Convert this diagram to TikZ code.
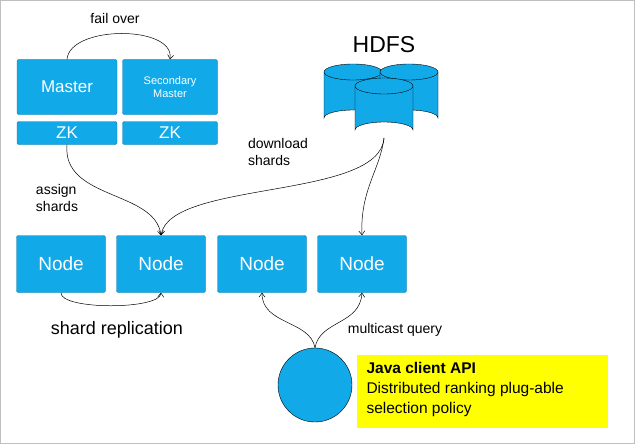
\documentclass[tikz,border=0pt]{standalone}
\usepackage{fontspec}
\setmainfont{Liberation Sans}
\usetikzlibrary{arrows.meta}
\definecolor{cy}{HTML}{12A9E8}
\definecolor{yl}{HTML}{FFFF00}
\begin{document}
\begin{tikzpicture}[x=1pt,y=-1pt,
 box/.style={draw=cy!70!black,fill=cy,text=white,rounded corners=2pt,inner sep=0pt},
 conn/.style={-{Straight Barb[length=4pt,width=6pt]},black,line width=0.5pt},
 lbl/.style={font=\fontsize{14}{17}\selectfont,align=left}]
\useasboundingbox (0,0) rectangle (635,444);
\draw[gray!50] (0.5,0.5) rectangle (634.5,443.5);
\node[box,minimum width=100pt,minimum height=55pt,font=\fontsize{17}{19}\selectfont] (m) at (67,87) {Master};
\node[box,minimum width=100pt,minimum height=23pt,font=\fontsize{17}{19}\selectfont] (zk1) at (67,133) {ZK};
\node[box,minimum width=95pt,minimum height=55pt,font=\fontsize{11}{13}\selectfont,align=center] (sm) at (170,87) {Secondary\\Master};
\node[box,minimum width=95pt,minimum height=23pt,font=\fontsize{17}{19}\selectfont] (zk2) at (170,133) {ZK};
\node[lbl] (fo) at (115,18) {fail over};
\draw[conn] (m.north) .. controls (70,25) and (175,25) .. (sm.north);
\node[font=\fontsize{23}{26}\selectfont] (hdfs) at (384,45) {HDFS};
\foreach \cx/\ty/\by in {353/72/118, 409/72/118, 384/86/130}{
 \fill[cy] (\cx-29,\ty) -- (\cx-29,\by) arc[start angle=180,end angle=360,x radius=29,y radius=8] -- (\cx+29,\ty) -- cycle;
 \draw[black] (\cx-29,\ty) -- (\cx-29,\by) arc[start angle=180,end angle=360,x radius=29,y radius=8] -- (\cx+29,\ty);
 \draw[black,fill=cy] (\cx,\ty) ellipse[x radius=29,y radius=8];
}
\coordinate (hd) at (384,138);
\foreach \n/\x in {n1/61,n2/161,n3/262,n4/362}
 \node[box,minimum width=89pt,minimum height=57pt,font=\fontsize{19}{21}\selectfont] (\n) at (\x,264) {Node};
\node[lbl] (as) at (57,198) {assign\\shards};
\node[lbl] (ds) at (278,152) {download\\shards};
\draw[conn] (zk1.south) .. controls (62,200) and (155,190) .. (n2.north);
\draw[conn] (hd) .. controls (380,200) and (170,180) .. (n2.north);
\draw[conn] (hd) .. controls (380,170) and (360,190) .. (n4.north);
\draw[conn] (n1.south) .. controls (60,310) and (160,310) .. (n2.south);
\node[font=\fontsize{18}{20}\selectfont] (sr) at (117,330) {shard replication};
\node[circle,draw=black,fill=cy,minimum size=74pt,inner sep=0pt] (c) at (315,385) {};
\draw[conn] (c.north) .. controls (310,320) and (262,325) .. (n3.south);
\draw[conn] (c.north) .. controls (320,320) and (360,325) .. (n4.south);
\node[lbl] (mq) at (395,330) {multicast query};
\node[fill=yl,minimum width=251pt,minimum height=73pt,anchor=north west,inner sep=0pt] (api) at (357,355) {};
\node[lbl,anchor=north west,font=\fontsize{15.5}{20}\selectfont] (apit) at (363,359) {\textbf{Java client API}\\Distributed ranking plug-able\\selection policy};
\end{tikzpicture}
\end{document}
